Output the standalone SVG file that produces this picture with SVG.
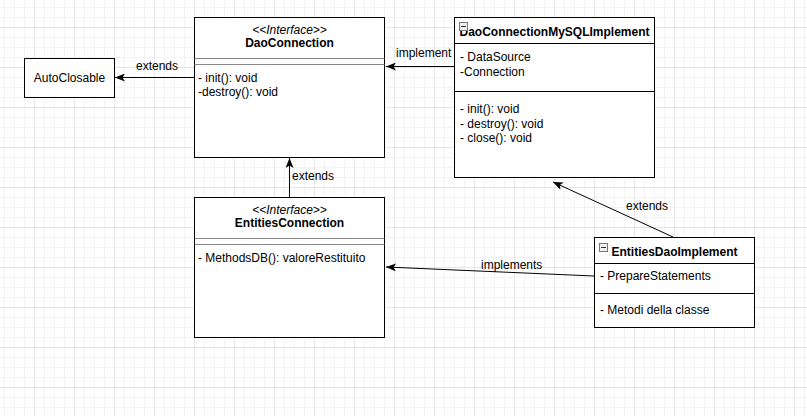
<svg xmlns="http://www.w3.org/2000/svg" width="807" height="416" viewBox="0 0 807 416">
<defs>
<pattern id="minor" x="4" y="7" width="10" height="10" patternUnits="userSpaceOnUse">
<path d="M0.5 0V10M0 0.5H10" stroke="#f3f3f3" fill="none"/>
</pattern>
<pattern id="major" x="34" y="27" width="40" height="40" patternUnits="userSpaceOnUse">
<path d="M0.5 0V40M0 0.5H40" stroke="#e6e6e6" fill="none"/>
</pattern>
<marker id="arr" viewBox="0 0 10 8" refX="10" refY="4" markerWidth="10" markerHeight="8" orient="auto" markerUnits="userSpaceOnUse">
<path d="M0 0L10 4L0 8L2.5 4Z" fill="#000"/>
</marker>
<symbol id="icon" viewBox="0 0 9 9">
<rect x="0.5" y="0.5" width="8" height="8" fill="#f0f0f0" stroke="#777"/>
<path d="M2 4.5H7" stroke="#333"/>
</symbol>
</defs>
<style>
text{font-family:"Liberation Sans",Arial,sans-serif;font-size:12px;fill:#000}
.b{font-weight:bold}
.i{font-style:italic}
.c{text-anchor:middle}
.box{fill:#fff;stroke:#000;stroke-width:1}
.sep{stroke:#000;stroke-width:1}
.gsep{stroke:#888;stroke-width:1}
.edge{fill:none;stroke:#000;stroke-width:1;marker-end:url(#arr)}
</style>
<rect width="807" height="416" fill="#fff"/>
<rect width="807" height="416" fill="url(#minor)"/>
<rect width="807" height="416" fill="url(#major)"/>

<g id="connectors">
<path class="edge" d="M194 77.5H115"/>
<text x="157" y="70" class="c">extends</text>
<path class="edge" d="M454 66.5H386"/>
<text x="396" y="57">implement</text>
<path class="edge" d="M289.5 197V158"/>
<text x="292" y="180">extends</text>
<path class="edge" d="M673 237L553 182"/>
<text x="626" y="210">extends</text>
<path class="edge" d="M594 276L386 267"/>
<text x="481" y="269">implements</text>
</g>

<g id="AutoClosable">
<rect class="box" x="24.5" y="58.5" width="90" height="39"/>
<text x="69.5" y="82" class="c">AutoClosable</text>
</g>

<g id="DaoConnection">
<rect class="box" x="194.5" y="17.5" width="190" height="140"/>
<text x="289.5" y="34" class="c i">&lt;&lt;Interface&gt;&gt;</text>
<text x="289.5" y="47" class="c b">DaoConnection</text>
<path class="gsep" d="M194.5 58.5H384.5M194.5 64.5H384.5"/>
<text x="198" y="82">- init(): void</text>
<text x="198" y="96">-destroy(): void</text>
</g>

<g id="DaoConnectionMySQLImplement">
<rect class="box" x="454.5" y="17.5" width="200" height="160"/>
<text x="554.5" y="36" class="c b">DaoConnectionMySQLImplement</text>
<use href="#icon" x="459" y="22" width="9" height="9"/>
<path class="sep" d="M454.5 43.5H654.5M454.5 91.5H654.5"/>
<text x="460" y="61">- DataSource</text>
<text x="460" y="76">-Connection</text>
<text x="460" y="113">- init(): void</text>
<text x="460" y="128">- destroy(): void</text>
<text x="460" y="142">- close(): void</text>
</g>

<g id="EntitiesConnection">
<rect class="box" x="194.5" y="197.5" width="190" height="140"/>
<text x="289.5" y="214" class="c i">&lt;&lt;Interface&gt;&gt;</text>
<text x="289.5" y="227" class="c b">EntitiesConnection</text>
<path class="gsep" d="M194.5 238.5H384.5M194.5 244.5H384.5"/>
<text x="198" y="262">- MethodsDB(): valoreRestituito</text>
</g>

<g id="EntitiesDaoImplement">
<rect class="box" x="594.5" y="237.5" width="160" height="90"/>
<text x="674.5" y="256" class="c b">EntitiesDaoImplement</text>
<use href="#icon" x="599" y="243" width="9" height="9"/>
<path class="sep" d="M594.5 263.5H754.5M594.5 293.5H754.5"/>
<text x="600" y="280">- PrepareStatements</text>
<text x="600" y="314">- Metodi della classe</text>
</g>
</svg>
